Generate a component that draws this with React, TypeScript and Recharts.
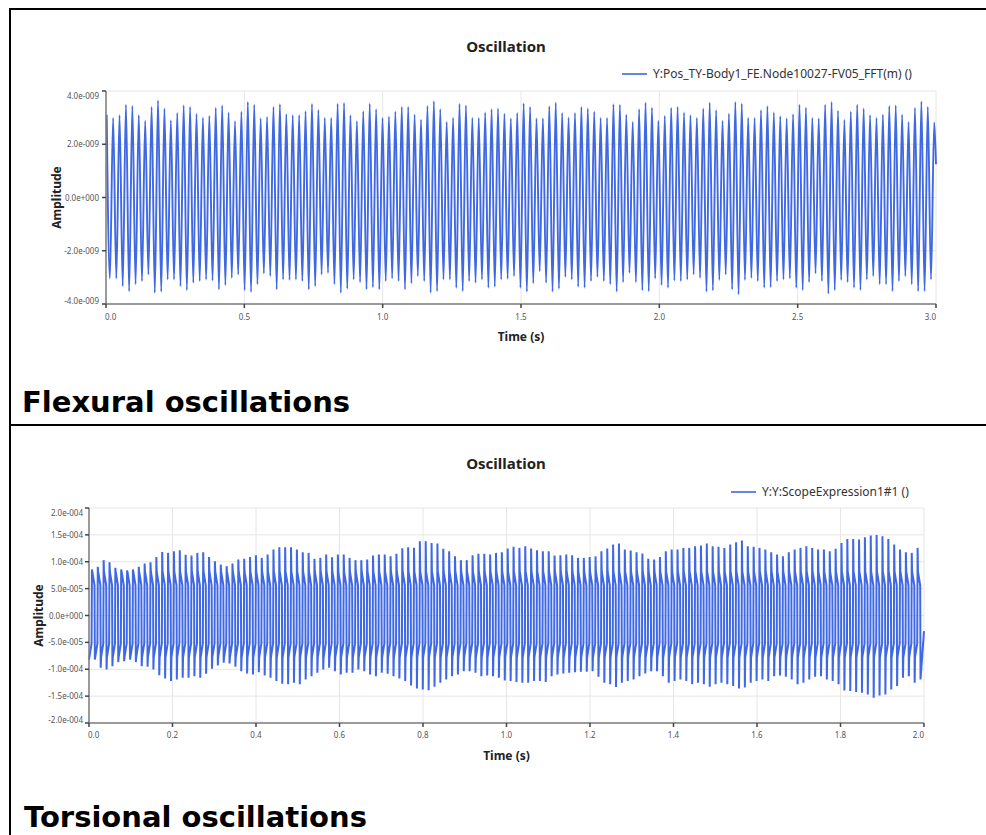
import React from 'react';
import { LineChart, Line, XAxis, YAxis, CartesianGrid, Legend, Label } from 'recharts';

// ---------- Flexural response (units of 1e-9 m) ----------
const flexPeaks = [
  3.11, 2.99, 3.09, 3.49, 3.44, 3.09, 2.88, 3.40, 3.65, 3.34,
  2.89, 3.18, 3.46, 3.40, 3.14, 3.00, 3.06, 3.36, 3.46, 3.19,
  2.87, 3.22, 3.59, 3.49, 2.97, 3.03, 3.40, 3.50, 3.13, 3.09,
  3.09, 3.24, 3.51, 3.29, 2.99, 2.99, 3.52, 3.55, 3.09, 2.87,
  3.24, 3.52, 3.32, 2.99, 3.04, 3.22, 3.40, 3.40, 3.11, 2.92,
  3.44, 3.62, 3.32, 2.84, 2.99, 3.51, 3.46, 2.99, 2.99, 3.19,
  3.32, 3.34, 3.15, 2.97, 3.18,
  3.53, 3.40, 2.97, 2.97, 3.43, 3.56, 3.18, 3.00, 3.18, 3.40,
  3.34, 3.22, 2.99, 2.99, 3.50, 3.49, 3.11, 2.84, 3.32, 3.56,
  3.37, 2.88, 3.06, 3.36, 3.40, 3.19, 3.09, 2.99, 3.34, 3.56,
  3.28, 2.88, 3.15, 3.59, 3.52, 2.99, 2.99, 3.28, 3.43, 3.19,
  3.05, 2.97, 3.13, 3.49, 3.37, 2.99, 2.97, 3.49, 3.59, 3.26,
  2.91, 3.22, 3.49, 3.34, 3.09, 2.99, 3.11, 3.44, 3.46, 3.11,
  2.84, 3.36, 3.61, 3.40, 2.82,
];
const flexTroughs = [
  -3.04, -3.04, -3.33, -3.52, -3.26, -3.14, -2.89, -3.58, -3.54, -3.08,
  -3.08, -3.33, -3.48, -3.20, -3.14, -3.08, -3.12, -3.45, -3.29, -3.02,
  -2.89, -3.48, -3.55, -3.26, -2.85, -2.95, -3.45, -3.08, -3.10, -3.08,
  -3.14, -3.45, -3.33, -2.89, -2.83, -3.26, -3.58, -3.43, -3.08, -3.18,
  -3.45, -3.37, -3.45, -3.14, -3.04, -3.14, -3.45, -3.22, -2.95, -3.14,
  -3.58, -3.52, -3.08, -3.08, -3.39, -3.52, -3.14, -3.20, -3.08, -3.39,
  -3.35, -3.08, -3.05, -2.95,
  -3.39, -3.54, -3.22, -2.77, -3.20, -3.54, -3.43, -2.98, -3.08, -3.35,
  -3.39, -3.14, -2.98, -3.14, -3.26, -3.54, -3.18, -2.83, -3.18, -3.49,
  -3.52, -3.04, -3.29, -3.39, -3.12, -3.14, -3.08, -2.89, -3.02, -3.54,
  -3.49, -3.10, -2.89, -3.45, -3.64, -3.10, -3.02, -3.14, -3.39, -3.37,
  -3.14, -3.08, -3.04, -3.39, -3.48, -3.18, -2.85, -3.14, -3.61, -3.48,
  -3.10, -3.18, -3.39, -3.48, -3.08, -2.95, -3.26, -3.26, -3.52, -3.14,
  -2.95, -3.26, -3.52, -3.52, -3.08,
];
const flexLastValue = 1.25;
const flexFirstCrest = 0.0025; // s
const flexHalfPeriod = 0.011593; // s between crest and trough samples
const flexEndTime = 3.0;
const flexTimeTicks = [0, 0.5, 1.0, 1.5, 2.0, 2.5, 3.0];
const flexAmpTicks = [-4e-9, -2e-9, 0, 2e-9, 4e-9];

// ---------- Torsional response (units of 1e-5) ----------
const torsPeaks = [
  8.55, 9.05, 10.3, 9.9, 8.87, 8.55, 8.37, 8.55, 9.05, 9.67,
  9.92, 10.9, 11.8, 11.65, 11.96, 12.15, 11.3, 11.16, 11.65, 11.78,
  10.9, 10.1, 9.49, 9.18, 9.67, 10.4, 10.54, 10.9, 11.22, 10.72,
  11.34, 12.28, 12.7, 12.7, 12.7, 12.28, 11.78, 11.65, 10.54, 10.72,
  11.34, 10.85, 11.34, 11.34, 10.72, 10.3, 10.3, 10.4, 11.16, 11.34,
  11.34, 11.03, 11.47, 12.5, 12.7, 12.6, 13.8, 13.8, 13.5, 13.4,
  12.4, 11.96, 11.03, 10.3, 10.3, 11.22, 11.47, 11.47, 11.34, 11.65,
  11.78,
  12.46, 12.77, 12.58, 12.89, 12.46, 12.15, 11.96, 11.96, 11.16, 11.22,
  11.34, 11.22, 10.72, 10.72, 10.9, 11.03, 11.96, 12.46, 13.2, 13.4,
  12.28, 12.09, 11.78, 11.53, 10.54, 10.41, 10.9, 11.96, 12.28, 12.28,
  12.58, 12.58, 12.89, 13.02, 13.4, 12.89, 12.77, 12.58, 13.2, 13.63,
  13.94, 12.89, 12.77, 12.58, 12.28, 11.78, 11.34, 11.03, 11.78, 12.28,
  12.58, 12.89, 12.58, 12.28, 12.28, 11.96, 12.4, 13.5, 14.25, 14.25,
  14.13, 14.56, 14.86, 14.99, 14.75, 14.25, 13.2, 12.28, 11.78, 11.65,
  12.58,
];
const torsTroughs = [
  -8.18, -8.18, -9.73, -10.04, -9.42, -8.67, -8.49, -8.18, -8.67, -9.42,
  -9.54, -10.04, -11.1, -11.7, -12.2, -11.9, -11.6, -11.6, -11.3, -11.6,
  -10.85, -9.92, -9.3, -8.8, -8.92, -9.54, -10.35, -10.79, -10.97, -10.54,
  -11.16, -11.6, -12.2, -12.7, -12.8, -12.5, -12.8, -11.9, -11.3, -10.66,
  -10.04, -9.73, -10.35, -10.97, -10.66, -10.66, -10.04, -10.35, -10.97, -11.3,
  -10.66, -10.85, -11.3, -11.7, -12.2, -13.0, -13.6, -13.75, -13.9, -13.25,
  -12.5, -11.9, -11.3, -10.97, -10.35, -10.35, -10.66, -11.3, -11.16, -11.3,
  -11.6,
  -12.08, -12.2, -12.39, -12.5, -12.5, -12.2, -12.2, -12.39, -11.3, -10.97,
  -10.79, -10.66, -10.54, -10.48, -10.48, -10.35, -11.4, -12.5, -12.8, -13.3,
  -12.5, -12.2, -11.9, -11.3, -10.79, -10.35, -10.35, -11.3, -12.5, -12.2,
  -11.9, -12.2, -12.8, -12.5, -12.8, -13.25, -12.8, -12.5, -12.8, -13.1,
  -13.6, -13.4, -12.5, -12.2, -11.9, -12.2, -11.3, -11.16, -11.4, -11.9,
  -12.8, -12.5, -11.9, -11.4, -11.3, -11.9, -12.2, -12.8, -13.94, -14.06,
  -14.25, -14.37, -14.68, -15.3, -14.87, -14.68, -13.75, -13.1, -11.6, -11.3,
  -12.5,
];
// level of the flat part that follows each crest / trough (start, end)
const torsUpperShelf = [8.2, 5.6];
const torsLowerShelf = [-7.8, -5.2];
const torsFinalTrough = -11.9;
const torsLastValue = -2.9;
const torsPeriod = 0.014026; // s
const torsEndTime = 2.0;
const torsTimeTicks = [0, 0.2, 0.4, 0.6, 0.8, 1.0, 1.2, 1.4, 1.6, 1.8, 2.0];
const torsAmpTicks = [-2e-4, -1.5e-4, -1e-4, -5e-5, 0, 5e-5, 1e-4, 1.5e-4, 2e-4];

// ---------- series assembly ----------
type Pt = { t: number; v: number };

const flexData: Pt[] = [];
flexPeaks.forEach((p, k) => {
  flexData.push({ t: flexFirstCrest + 2 * k * flexHalfPeriod, v: p * 1e-9 });
  if (k < flexTroughs.length) {
    flexData.push({ t: flexFirstCrest + (2 * k + 1) * flexHalfPeriod, v: flexTroughs[k] * 1e-9 });
  }
});
flexData.push({ t: flexEndTime, v: flexLastValue * 1e-9 });

// within one cycle: trough, lower shelf, crest, upper shelf
const cyclePhase = [0, 0.06, 0.44, 0.5, 0.56, 0.94];
const torsData: Pt[] = [];
torsPeaks.forEach((p, k) => {
  const t0 = k * torsPeriod;
  const vals = [torsTroughs[k], torsLowerShelf[0], torsLowerShelf[1], p, torsUpperShelf[0], torsUpperShelf[1]];
  vals.forEach((v, j) => torsData.push({ t: t0 + cyclePhase[j] * torsPeriod, v: v * 1e-5 }));
});
torsData.push({ t: torsPeaks.length * torsPeriod, v: torsFinalTrough * 1e-5 });
torsData.push({ t: torsEndTime, v: torsLastValue * 1e-5 });

// ---------- styling helpers ----------
const BLUE = '#3f68e4';
const UI_FONT = '"Noto Sans", "Open Sans", sans-serif';
const GRID = '#e6e6e6';
const AXIS = '#7d7d7d';

const sci = (v: number) => {
  if (v === 0) return '0.0e+000';
  const e = Math.floor(Math.log10(Math.abs(v)) + 1e-9);
  const m = v / Math.pow(10, e);
  const sign = e < 0 ? '-' : '+';
  return `${m.toFixed(1)}e${sign}${String(Math.abs(e)).padStart(3, '0')}`;
};

const makeYTick = (lo: number, hi: number) => (props: any) => {
  const { x, y, payload } = props;
  let dy = 3;
  if (payload.value === hi) dy = 8;
  if (payload.value === lo) dy = -0.5;
  return (
    <text x={x} y={y} dy={dy} textAnchor="end" fontFamily={UI_FONT} fontSize={8} fill="#555">
      {sci(payload.value)}
    </text>
  );
};

const makeXTick = (lo: number, hi: number, dy: number) => (props: any) => {
  const { x, y, payload } = props;
  const anchor = payload.value === lo ? 'start' : payload.value === hi ? 'end' : 'middle';
  const dx = payload.value === lo ? -1 : 0;
  return (
    <text x={x + dx} y={y} dy={dy} textAnchor={anchor} fontFamily={UI_FONT} fontSize={8} fill="#555">
      {payload.value.toFixed(1)}
    </text>
  );
};

const yTitle = (cx: number) => (props: any) => {
  const vb = props.viewBox || { y: 0, height: 0 };
  const cy = vb.y + vb.height / 2;
  return (
    <text x={cx} y={cy} transform={`rotate(-90, ${cx}, ${cy})`} textAnchor="middle" dominantBaseline="central"
      fontFamily={UI_FONT} fontSize={12} fontWeight={700} fill="#222">
      Amplitude
    </text>
  );
};

const xTitle = (baseline: number) => (props: any) => {
  const vb = props.viewBox || { x: 0, width: 0 };
  const cx = vb.x + vb.width / 2;
  return (
    <text x={cx} y={baseline} textAnchor="middle" fontFamily={UI_FONT} fontSize={12} fontWeight={700} fill="#222">
      Time (s)
    </text>
  );
};

const legendContent = (label: string) => () => (
  <div style={{ display: 'flex', alignItems: 'center', fontFamily: UI_FONT, fontSize: 12, color: '#333', whiteSpace: 'nowrap', lineHeight: '16px' }}>
    <svg width={25} height={4} style={{ display: 'block' }}>
      <line x1={0} x2={25} y1={2} y2={2} stroke={BLUE} strokeWidth={1.6} />
    </svg>
    <span style={{ marginLeft: 6 }}>{label}</span>
  </div>
);

const Title = ({ top }: { top: number }) => (
  <div style={{ position: 'absolute', left: 406, width: 200, top, textAlign: 'center', fontFamily: UI_FONT, fontSize: 15, fontWeight: 700, color: '#222', lineHeight: '20px' }}>
    Oscillation
  </div>
);

const Caption = ({ text, left, top }: { text: string; left: number; top: number }) => (
  <div style={{ position: 'absolute', left, top, fontFamily: '"DejaVu Sans", Verdana, sans-serif', fontWeight: 700, fontSize: 29, lineHeight: '29px', color: '#000', whiteSpace: 'nowrap' }}>
    {text}
  </div>
);

export default function App() {
  return (
    <div style={{ position: 'absolute', left: 0, top: 0, width: 986, height: 835, overflow: 'hidden', background: '#fff' }}>
      {/* table rules */}
      <div style={{ position: 'absolute', left: 9, top: 8, width: 977, height: 2, background: '#000' }} />
      <div style={{ position: 'absolute', left: 9, top: 8, width: 2, height: 827, background: '#000' }} />
      <div style={{ position: 'absolute', left: 9, top: 424, width: 977, height: 2, background: '#000' }} />

      {/* flexural chart */}
      <Title top={36} />
      <div style={{ position: 'absolute', left: 0, top: 0 }}>
        <LineChart width={986} height={360} data={flexData} margin={{ top: 91, right: 50, bottom: 26, left: 0 }}>
          <CartesianGrid stroke={GRID} strokeWidth={1} />
          <XAxis type="number" dataKey="t" domain={[0, 3]} ticks={flexTimeTicks} interval={0} height={30}
            axisLine={{ stroke: AXIS, strokeWidth: 1.5 }} tickLine={{ stroke: '#444', strokeWidth: 1.5 }}
            tickSize={4} tickMargin={2} tick={makeXTick(0, 3, 10)}>
            <Label content={xTitle(341)} />
          </XAxis>
          <YAxis type="number" domain={[-4e-9, 4e-9]} ticks={flexAmpTicks} interval={0} width={106}
            axisLine={{ stroke: AXIS, strokeWidth: 1.5 }} tickLine={{ stroke: '#444', strokeWidth: 1.5 }}
            tickSize={4} tickMargin={3} tick={makeYTick(-4e-9, 4e-9)}>
            <Label content={yTitle(56.5)} />
          </YAxis>
          <Legend layout="vertical" align="center" verticalAlign="middle"
            content={legendContent('Y:Pos_TY-Body1_FE.Node10027-FV05_FFT(m) ()')}
            wrapperStyle={{ left: 622, top: 66, width: 'auto', height: 'auto' }} />
          <Line type="monotone" dataKey="v" stroke={BLUE} strokeWidth={1.9} dot={false} isAnimationActive={false} />
        </LineChart>
      </div>
      <Caption text="Flexural oscillations" left={22} top={388} />

      {/* torsional chart */}
      <Title top={453} />
      <div style={{ position: 'absolute', left: 0, top: 430 }}>
        <LineChart width={986} height={360} data={torsData} margin={{ top: 78, right: 62, bottom: 37, left: 0 }}>
          <CartesianGrid stroke={GRID} strokeWidth={1} />
          <XAxis type="number" dataKey="t" domain={[0, 2]} ticks={torsTimeTicks} interval={0} height={30}
            axisLine={{ stroke: AXIS, strokeWidth: 1.5 }} tickLine={{ stroke: '#444', strokeWidth: 1.5 }}
            tickSize={4} tickMargin={2} tick={makeXTick(0, 2, 9)}>
            <Label content={xTitle(330)} />
          </XAxis>
          <YAxis type="number" domain={[-2e-4, 2e-4]} ticks={torsAmpTicks} interval={0} width={89}
            axisLine={{ stroke: AXIS, strokeWidth: 1.5 }} tickLine={{ stroke: '#444', strokeWidth: 1.5 }}
            tickSize={4} tickMargin={2} tick={makeYTick(-2e-4, 2e-4)}>
            <Label content={yTitle(38)} />
          </YAxis>
          <Legend layout="vertical" align="center" verticalAlign="middle"
            content={legendContent('Y:Y:ScopeExpression1#1 ()')}
            wrapperStyle={{ left: 731, top: 54, width: 'auto', height: 'auto' }} />
          <Line type="linear" dataKey="v" stroke={BLUE} strokeWidth={2} dot={false} isAnimationActive={false} />
        </LineChart>
      </div>
      <Caption text="Torsional oscillations" left={24} top={803} />
    </div>
  );
}
